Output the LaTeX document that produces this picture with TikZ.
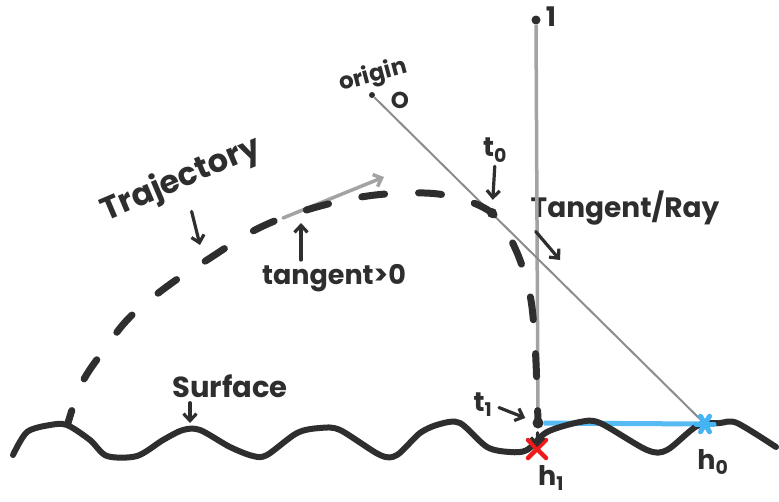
\documentclass[tikz,border=0pt]{standalone}
\usepackage{fontspec}
\setmainfont{Poppins}
\usepackage{tikz}
\usetikzlibrary{arrows.meta}
\definecolor{cInk}{HTML}{2E2E2E}
\definecolor{cBeam}{HTML}{A3A3A3}
\definecolor{cRay}{HTML}{8C8C8C}
\definecolor{cHit}{HTML}{45B4F2}
\definecolor{cMiss}{HTML}{F01A1A}
\tikzset{
  lbl/.style      = {font=\fontsize{28}{30}\selectfont\bfseries, text=cInk, inner sep=0pt},
  sml/.style      = {lbl, font=\fontsize{23}{25}\selectfont\bfseries},
  sub/.style      = {lbl, font=\fontsize{27}{29}\selectfont\bfseries},
  blob/.style     = {circle, fill=cInk, inner sep=0pt, minimum size=9pt},
  ink/.style      = {draw=cInk, line width=3.2pt, line cap=round, line join=round},
  pin/.style      = {ink, -{Straight Barb[length=7pt, width=13pt]}},
  surf/.style     = {draw=cInk, line width=6pt, line cap=round, line join=round},
  trajline/.style = {draw=cInk, line width=7pt, line cap=round,
                     dash pattern=on 23pt off 34pt, dash phase=10pt},
  beam/.style     = {draw=cBeam, line width=3.5pt},
  ray/.style      = {draw=cRay, line width=2pt},
  tanarr/.style   = {draw=cBeam, line width=3.5pt, line cap=round,
                     -{Straight Barb[length=7pt, width=13pt]}},
  hitline/.style  = {draw=cHit, line width=5pt, opacity=0.9},
  hitstar/.style  = {draw=cHit, line width=5pt, line cap=round},
  missx/.style    = {draw=cMiss, line width=4.5pt, line cap=round},
}

\begin{document}
\begin{tikzpicture}[x=1pt, y=-1pt]
  \useasboundingbox (0,0) rectangle (779,501);

  \node[blob, minimum size=6pt] (O) at (372,95) {};
  \node[blob] (top) at (536,20) {};
  \node[blob, minimum size=10pt] (t0) at (492,213) {};
  \node[blob, minimum size=11pt] (t1) at (538,423) {};
  \coordinate (h1) at (537,449);
  \coordinate (h0) at (705,424);
  \coordinate (tanA) at (283,218);
  \coordinate (tanB) at (384,177);
  \coordinate (trajmark) at (200,245);
  \coordinate (tanmark) at (301,223);
  \coordinate (raymark) at (560,260);
  \coordinate (surfmark) at (190,423);

  \node[lbl, rotate=23, font=\fontsize{32}{34}\selectfont\bfseries] (trajlbl) at (181,180) {Trajectory};
  \node[lbl, font=\fontsize{27}{29}\selectfont\bfseries] (tanlbl) at (334,278) {tangent>0};
  \node[lbl] (raylbl) at (625,208) {Tangent/Ray};
  \node[lbl, font=\fontsize{29}{31}\selectfont\bfseries] (surflbl) at (230,386) {Surface};
  \node[sml, rotate=15] (origlbl) at (373,76) {origin};
  \node[sml] (Olbl) at (400,100) {O};
  \node[sub] (toplbl) at (551,17) {1};
  \node[sub] (t0lbl) at (495,150) {t\textsubscript{0}};
  \node[sub] (t1lbl) at (483,405) {t\textsubscript{1}};
  \node[sub] (h1lbl) at (551,478) {h\textsubscript{1}};
  \node[sub] (h0lbl) at (713,462) {h\textsubscript{0}};

  \draw[beam] (top) -- (t1);
  \draw[ray] (O) -- (h0);
  \draw[tanarr] (tanA) -- (tanB);
  \draw[trajline] plot[smooth, tension=0.6] coordinates {(68,423) (82,383) (104,350) (130,317) (169,285) (207,260) (255,230) (300,212) (355,198) (405,193) (450,196) (492,213) (515,248) (530,295) (535,345) (537,390) (538,423)};
  \draw[hitline] (t1) -- (h0);
  \draw[surf] plot[smooth, tension=0.5] coordinates {(13,455) (27,432) (50,425) (67,425) (90,440) (107,456) (137,456) (163,440) (183,430) (200,430) (230,447) (253,456) (267,455) (297,433) (320,428) (340,430) (380,455) (397,455) (420,433) (440,424) (460,423) (487,447) (510,452) (527,450) (547,432) (580,422) (600,423) (647,450) (667,450) (697,426) (720,423) (737,423) (776,447)};

  \draw[missx] ([shift={(-9,-9)}]h1) -- ([shift={(9,9)}]h1);
  \draw[missx] ([shift={(-9,9)}]h1) -- ([shift={(9,-9)}]h1);
  \foreach \a in {0,60,120}
    \draw[hitstar] ([shift={(\a:9pt)}]h0) -- ([shift={(\a+180:9pt)}]h0);

  \draw[pin, shorten <=16pt] (trajlbl.south) -- (trajmark);
  \draw[pin, shorten <=4pt] (tanmark |- tanlbl.north) -- (tanmark);
  \draw[pin, shorten <=4pt, shorten >=8pt] (t0lbl.south) -- (t0);
  \draw[pin, shorten <=8pt] (raylbl.south west) -- (raymark);
  \draw[pin, shorten <=5pt] (surfmark |- surflbl.south) -- (surfmark);
  \draw[pin, shorten <=7pt, shorten >=8pt] (t1lbl.east) -- (t1);
  \draw[pin, shorten <=4pt, shorten >=2pt] (t1) -- (h1);
\end{tikzpicture}
\end{document}
